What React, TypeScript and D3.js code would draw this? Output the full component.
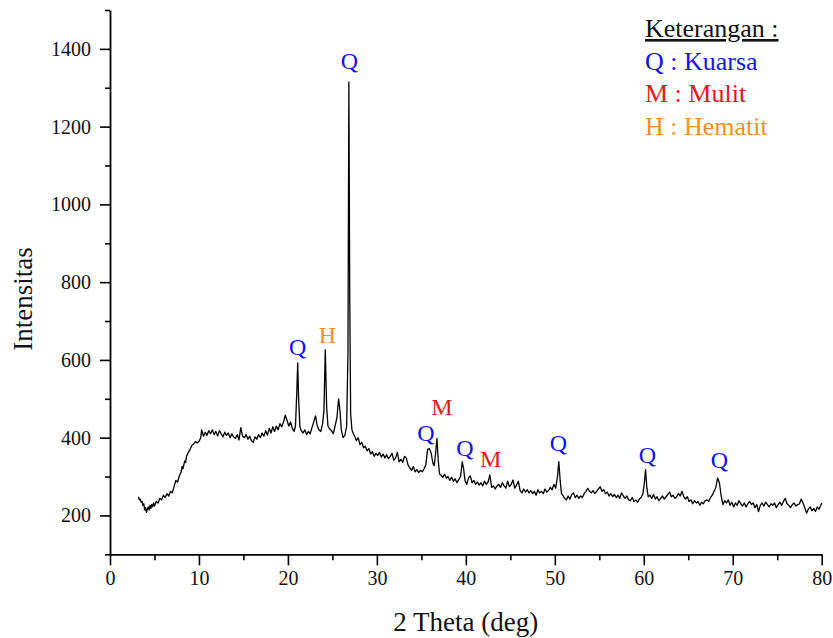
import React, { useEffect, useRef } from "react";
import * as d3 from "d3";

// ---------- DATA (2θ in degrees, intensity in counts) ----------
const scanRise: [number, number][] = [
  [3.2, 248], [3.3, 240], [3.4, 242], [3.5, 234], [3.6, 236], [3.7, 226], [3.8, 230], [3.9, 214],
  [4.0, 220], [4.1, 208], [4.2, 216], [4.3, 222], [4.4, 214], [4.5, 226], [4.6, 218], [4.7, 228],
  [4.8, 222], [4.9, 232], [5.0, 224], [5.2, 236], [5.4, 232], [5.6, 244], [5.8, 240], [6.0, 252],
  [6.2, 246], [6.4, 256], [6.6, 250], [6.8, 262], [7.0, 258], [7.2, 274], [7.4, 290], [7.6, 286],
  [7.8, 302], [8.0, 312], [8.1, 326], [8.2, 320], [8.4, 340], [8.5, 336], [8.6, 352], [8.8, 362],
  [9.0, 370], [9.2, 380], [9.4, 384], [9.6, 390], [9.8, 386], [10.0, 390], [10.2, 400], [10.3, 420],
];

const scanPlateau: [number, number][] = [
  [10.5, 404], [10.7, 414], [10.9, 406], [11.1, 418], [11.3, 410], [11.5, 420], [11.7, 408], [11.9, 416],
  [12.1, 404], [12.3, 418], [12.5, 410], [12.7, 402], [12.9, 414], [13.1, 406], [13.3, 412], [13.5, 400],
  [13.7, 410], [13.9, 402], [14.1, 398], [14.3, 408], [14.5, 394], [14.7, 426], [14.9, 404], [15.1, 400],
  [15.3, 408], [15.5, 396], [15.7, 404], [15.9, 392], [16.1, 388], [16.3, 402], [16.5, 396], [16.7, 408],
  [16.9, 400], [17.1, 412], [17.3, 404], [17.5, 418], [17.7, 406], [17.9, 424], [18.1, 412], [18.3, 428],
  [18.5, 416], [18.7, 430], [18.9, 420], [19.1, 436], [19.3, 428], [19.5, 440], [19.7, 458], [19.9, 444],
  [20.1, 430], [20.3, 440], [20.5, 424], [20.7, 416],
];

const scanMainPeaks: [number, number][] = [
  [20.85, 430], [21.0, 520], [21.1, 592], [21.2, 500], [21.35, 428], [21.5, 418], [21.7, 412], [21.9, 420],
  [22.1, 408], [22.3, 416], [22.5, 410], [22.7, 426], [22.9, 440], [23.1, 456], [23.3, 430], [23.5, 420],
  [23.7, 416], [23.9, 436], [24.05, 470], [24.2, 626], [24.35, 480], [24.5, 430], [24.7, 422], [24.9, 418],
  [25.1, 410], [25.3, 430], [25.5, 450], [25.7, 500], [25.85, 470], [26.0, 420], [26.2, 400], [26.4, 406],
  [26.6, 430], [26.75, 620], [26.85, 1315], [26.95, 760], [27.05, 460], [27.2, 420], [27.35, 410],
];

const scanMid: [number, number][] = [
  [27.5, 404], [27.7, 392], [27.9, 400], [28.1, 382], [28.3, 388], [28.5, 374], [28.7, 378], [28.9, 366],
  [29.1, 372], [29.3, 358], [29.5, 364], [29.7, 352], [29.9, 360], [30.1, 354], [30.3, 362], [30.5, 350],
  [30.7, 358], [30.9, 348], [31.1, 356], [31.3, 346], [31.5, 352], [31.7, 360], [31.9, 342], [32.1, 348],
  [32.3, 362], [32.5, 338], [32.7, 344], [32.9, 336], [33.1, 352], [33.3, 348], [33.5, 330], [33.7, 322],
  [33.9, 316], [34.1, 326], [34.3, 312], [34.5, 318], [34.7, 310], [34.9, 316], [35.1, 312], [35.3, 320],
  [35.5, 330], [35.7, 370], [35.9, 372], [36.1, 360], [36.3, 334], [36.45, 328], [36.6, 360], [36.75, 398],
  [36.9, 340], [37.05, 306],
];

const scanHigh: [number, number][] = [
  [37.2, 304], [37.4, 298], [37.6, 306], [37.8, 296], [38.0, 300], [38.2, 290], [38.4, 298], [38.6, 288],
  [38.8, 294], [39.0, 284], [39.2, 292], [39.4, 300], [39.6, 338], [39.75, 320], [39.9, 290], [40.1, 280],
  [40.3, 296], [40.5, 302], [40.7, 284], [40.9, 290], [41.1, 280], [41.3, 286], [41.5, 278], [41.7, 284],
  [41.9, 276], [42.1, 288], [42.3, 280], [42.5, 286], [42.7, 304], [42.9, 272], [43.1, 276], [43.3, 268],
  [43.5, 276], [43.7, 280], [43.9, 272], [44.1, 284], [44.3, 276], [44.5, 270], [44.7, 288], [44.9, 274],
  [45.1, 280], [45.3, 291], [45.5, 270], [45.7, 278], [45.9, 288], [46.1, 264], [46.3, 258], [46.5, 268],
  [46.7, 260], [46.9, 266], [47.1, 258], [47.3, 264], [47.5, 256], [47.7, 262], [47.9, 252], [48.1, 266],
  [48.3, 258], [48.5, 262], [48.7, 256], [48.9, 268], [49.1, 260], [49.3, 264], [49.5, 272], [49.7, 266],
  [49.9, 280], [50.1, 270], [50.3, 300], [50.45, 338], [50.6, 290], [50.75, 256],
];

const scanTail: [number, number][] = [
  [50.9, 252], [51.1, 244], [51.3, 240], [51.5, 250], [51.7, 242], [51.9, 254], [52.1, 258], [52.3, 246],
  [52.5, 252], [52.7, 244], [52.9, 250], [53.1, 246], [53.3, 256], [53.5, 262], [53.7, 270], [53.9, 262],
  [54.1, 258], [54.3, 264], [54.5, 256], [54.7, 262], [54.9, 268], [55.1, 274], [55.3, 262], [55.5, 266],
  [55.7, 256], [55.9, 260], [56.1, 250], [56.3, 256], [56.5, 248], [56.7, 254], [56.9, 246], [57.1, 252],
  [57.3, 244], [57.5, 258], [57.7, 250], [57.9, 244], [58.1, 250], [58.3, 240], [58.5, 238], [58.7, 246],
  [58.9, 236], [59.1, 240], [59.3, 234], [59.5, 242], [59.7, 246], [59.9, 256], [60.05, 280], [60.2, 318],
  [60.35, 270], [60.5, 248], [60.7, 252], [60.9, 244], [61.1, 254], [61.3, 242], [61.5, 248], [61.7, 238],
  [61.9, 244], [62.1, 250], [62.3, 242], [62.5, 248], [62.7, 254], [62.9, 260], [63.1, 248], [63.3, 252],
  [63.5, 244], [63.7, 248], [63.9, 256], [64.1, 250], [64.3, 262], [64.5, 248], [64.7, 242], [64.9, 248],
  [65.1, 236], [65.3, 240], [65.5, 230], [65.7, 238], [65.9, 232], [66.1, 236], [66.3, 226], [66.5, 234],
  [66.7, 230], [66.9, 238], [67.1, 240], [67.3, 236], [67.5, 246], [67.7, 252], [67.9, 262], [68.1, 272],
  [68.3, 296], [68.5, 284], [68.7, 250], [68.9, 228], [69.1, 238], [69.3, 232], [69.5, 240], [69.7, 226],
  [69.9, 234], [70.1, 222], [70.3, 232], [70.5, 226], [70.7, 238], [70.9, 230], [71.1, 224], [71.3, 232],
  [71.5, 222], [71.7, 230], [71.9, 236], [72.1, 228], [72.3, 232], [72.5, 220], [72.7, 228], [72.9, 210],
  [73.1, 226], [73.3, 232], [73.5, 224], [73.7, 234], [73.9, 228], [74.1, 222], [74.3, 230], [74.5, 226],
  [74.7, 232], [74.9, 220], [75.1, 228], [75.3, 234], [75.5, 226], [75.7, 236], [75.9, 244], [76.1, 230],
  [76.3, 226], [76.5, 220], [76.7, 228], [76.9, 232], [77.1, 224], [77.3, 228], [77.5, 230], [77.7, 242],
  [77.9, 232], [78.1, 220], [78.3, 206], [78.5, 216], [78.7, 222], [78.9, 212], [79.1, 218], [79.3, 210],
  [79.5, 222], [79.7, 216], [79.9, 226], [80.0, 232],
];

const xMajorTicks = [0, 10, 20, 30, 40, 50, 60, 70, 80];
const xMinorTicks = [5, 15, 25, 35, 45, 55, 65, 75];
const yMajorTicks = [200, 400, 600, 800, 1000, 1200, 1400];
const yMinorTicks = [100, 300, 500, 700, 900, 1100, 1300, 1500];

const peakLetters = ["Q", "Q", "H", "Q", "M", "Q", "M", "Q", "Q", "Q"];
const peakLabelTheta = [21.1, 26.9, 24.45, 35.5, 37.3, 39.9, 42.8, 50.4, 60.4, 68.5];
const peakLabelIntensity = [612, 1347, 643, 392, 458, 352, 325, 365, 335, 322];

const legendTitle = "Keterangan :";
const phaseLetters = ["Q", "M", "H"];
const phaseNames = ["Kuarsa", "Mulit", "Hematit"];

const xTitle = "2 Theta (deg)";
const yTitle = "Intensitas";

// ---------- STYLE ----------
const W = 833;
const H = 638;
const FONT = "Liberation Serif, Times New Roman, serif";
const phaseColor: Record<string, string> = { Q: "#1414ea", M: "#e3161c", H: "#f7901e" };

export default function App() {
  const xAxisRef = useRef<SVGGElement>(null);
  const yAxisRef = useRef<SVGGElement>(null);

  const x = d3.scaleLinear().domain([0, 80]).range([110, 821.7]);
  const y = d3.scaleLinear().domain([100, 1500]).range([554.3, 10]);

  const scan = [...scanRise, ...scanPlateau, ...scanMainPeaks, ...scanMid, ...scanHigh, ...scanTail];
  const line = d3
    .line<[number, number]>()
    .x((d) => x(d[0]))
    .y((d) => y(d[1]));

  useEffect(() => {
    const gx = d3.select(xAxisRef.current!);
    gx.selectAll("*").remove();
    const major = gx.append("g").call(
      d3.axisBottom(x).tickValues(xMajorTicks).tickSize(11).tickSizeOuter(0).tickPadding(6).tickFormat(d3.format("d"))
    );
    const minor = gx.append("g").call(
      d3.axisBottom(x).tickValues(xMinorTicks).tickSize(6).tickSizeOuter(0).tickFormat(() => "")
    );
    minor.select(".domain").remove();
    [major, minor].forEach((g) => {
      g.attr("font-family", FONT).attr("font-size", 20);
      g.selectAll("line").attr("stroke", "#000").attr("stroke-width", 1.6);
      g.selectAll("path").attr("stroke", "#000").attr("stroke-width", 1.8);
      g.selectAll("text").attr("fill", "#111");
    });

    const gy = d3.select(yAxisRef.current!);
    gy.selectAll("*").remove();
    const ymaj = gy.append("g").call(
      d3.axisLeft(y).tickValues(yMajorTicks).tickSize(10).tickSizeOuter(0).tickPadding(9).tickFormat(d3.format("d"))
    );
    const ymin = gy.append("g").call(
      d3.axisLeft(y).tickValues(yMinorTicks).tickSize(5).tickSizeOuter(0).tickFormat(() => "")
    );
    ymin.select(".domain").remove();
    [ymaj, ymin].forEach((g) => {
      g.attr("font-family", FONT).attr("font-size", 20);
      g.selectAll("line").attr("stroke", "#000").attr("stroke-width", 1.6);
      g.selectAll("path").attr("stroke", "#000").attr("stroke-width", 1.8);
      g.selectAll("text").attr("fill", "#111");
    });
  }, []);

  const legendX = 645;
  const legendY0 = 37;
  const legendDy = 32.7;

  return (
    <svg
      width={W}
      height={H}
      style={{ position: "absolute", left: 0, top: 0, background: "#fff" }}
      fontFamily={FONT}
    >
      <rect x={0} y={0} width={W} height={H} fill="#fff" />
      <path d={line(scan) ?? ""} fill="none" stroke="#000" strokeWidth={1.3} strokeLinejoin="round" />
      <g ref={xAxisRef} transform={`translate(0,${y(100)})`} />
      <g ref={yAxisRef} transform={`translate(${x(0)},0)`} />

      {peakLetters.map((t, i) => (
        <text
          key={i}
          x={x(peakLabelTheta[i])}
          y={y(peakLabelIntensity[i])}
          textAnchor="middle"
          fontSize={24}
          fill={phaseColor[t]}
        >
          {t}
        </text>
      ))}

      <text x={legendX} y={legendY0} fontSize={26} fill="#111" textDecoration="underline">
        {legendTitle}
      </text>
      {phaseLetters.map((p, i) => (
        <text key={p} x={legendX} y={legendY0 + legendDy * (i + 1)} fontSize={26} fill={phaseColor[p]}>
          {`${p} : ${phaseNames[i]}`}
        </text>
      ))}

      <text x={465.8} y={631} textAnchor="middle" fontSize={27} fill="#111">
        {xTitle}
      </text>
      <text
        transform={`translate(32,299) rotate(-90)`}
        textAnchor="middle"
        fontSize={27}
        fill="#111"
      >
        {yTitle}
      </text>
    </svg>
  );
}
